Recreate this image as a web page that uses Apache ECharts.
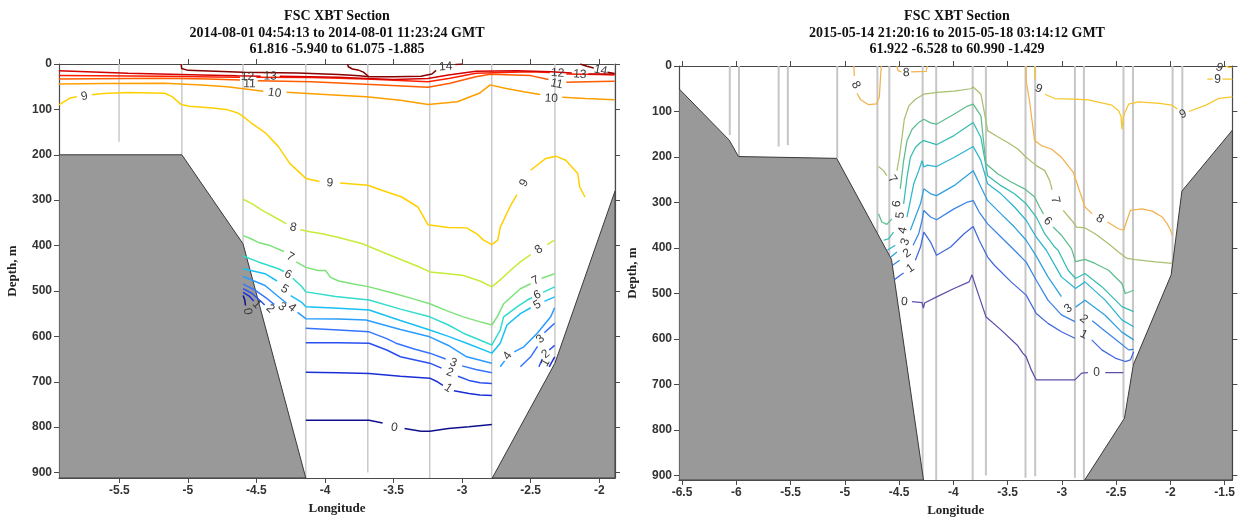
<!DOCTYPE html>
<html>
<head>
<meta charset="utf-8">
<script src="https://cdn.jsdelivr.net/npm/echarts@6/dist/echarts.min.js"></script>
<style>
  html, body { margin: 0; padding: 0; background: #fff; }
  #chart { width: 1238px; height: 524px; }
</style>
</head>
<body>
<div id="chart"></div>
<script>
// ---------- Section A: 2014-08-01 ----------
const secA_title = ['FSC XBT Section', '2014-08-01 04:54:13 to 2014-08-01 11:23:24 GMT', '61.816 -5.940 to 61.075 -1.885'];
const secA_lonRange = [-5.94, -1.885];
const secA_depthMax = 912;
const secA_lonTicks = [-5.5, -5, -4.5, -4, -3.5, -3, -2.5, -2];
const depthTicks = [0, 100, 200, 300, 400, 500, 600, 700, 800, 900];

// XBT drop positions: [longitude, deepest depth]
const secA_casts = [[-5.502,171],[-5.044,200],[-4.598,396],[-4.14,912],[-3.688,900],[-3.236,912],[-2.784,912],[-2.323,659],[-1.885,280]];
// sea floor
const secA_shelfWest = [[-5.94,200],[-5.044,200],[-4.598,396],[-4.14,912],[-5.94,912]];
const secA_shelfEast = [[-2.78,912],[-2.323,659],[-1.885,280],[-1.885,912]];

// isotherms, [longitude, depth]; null = break in the line
const secA_t0 = [[-4.597,510],[-4.585,520],[-4.58,532],null,[-4.14,785],[-3.90,785],[-3.678,785],[-3.58,791],null,[-3.42,803],[-3.30,809],[-3.236,809],[-3.10,803],[-2.95,799],[-2.783,794]];
const secA_t1 = [[-4.597,503],[-4.55,512],[-4.52,522],null,[-4.14,679],[-3.90,680],[-3.678,682],[-3.45,688],[-3.236,692],[-3.18,700],[-3.14,708],null,[-3.06,720],[-2.95,726],[-2.87,729],[-2.783,730],null,[-2.365,667],[-2.345,656],[-2.325,645]];
const secA_t2 = [[-4.597,495],[-4.53,506],[-4.47,522],[-4.44,531],null,[-4.14,614],[-3.90,614],[-3.678,615],[-3.55,630],[-3.45,645],[-3.236,659],[-3.15,670],null,[-3.03,688],[-2.95,697],[-2.87,702],[-2.783,704],null,[-2.44,667],[-2.415,650],null,[-2.365,630],[-2.325,620]];
const secA_t3 = [[-4.597,485],[-4.51,498],[-4.43,515],[-4.37,530],null,[-4.14,582],[-3.90,586],[-3.678,590],[-3.55,605],[-3.482,615],[-3.35,628],[-3.236,637],[-3.12,650],null,[-3.00,665],[-2.90,673],[-2.783,680],null,[-2.575,667],[-2.50,645],[-2.45,622],null,[-2.40,592],[-2.354,579],[-2.325,571]];
const secA_t4 = [[-4.597,468],[-4.437,488],[-4.35,510],[-4.28,527],null,[-4.20,547],[-4.14,561],[-3.90,562],[-3.702,564],[-3.45,585],[-3.236,601],[-3.10,620],[-2.967,645],[-2.783,659],null,[-2.722,667],[-2.69,654],null,[-2.62,634],[-2.55,623],[-2.452,593],[-2.354,557],[-2.325,537]];
const secA_t5 = [[-4.597,451],[-4.437,462],[-4.35,478],null,[-4.25,510],[-4.17,525],[-4.14,535],[-3.90,538],[-3.678,542],[-3.45,565],[-3.236,586],[-3.10,600],[-2.967,615],[-2.783,637],[-2.722,615],[-2.673,575],[-2.575,550],[-2.50,537],null,[-2.40,523],[-2.325,513]];
const secA_t6 = [[-4.597,423],[-4.486,436],[-4.34,451],[-4.30,457],null,[-4.235,472],[-4.17,490],[-4.14,502],[-3.923,512],[-3.678,520],[-3.45,540],[-3.236,557],[-3.10,575],[-2.991,593],[-2.88,607],[-2.783,619],[-2.722,586],[-2.697,557],[-2.60,535],[-2.525,520],[-2.49,515],null,[-2.41,503],[-2.325,491]];
const secA_t7 = [[-4.597,378],[-4.54,385],[-4.486,393],[-4.40,400],[-4.30,413],null,[-4.21,436],[-4.14,448],[-4.05,455],[-3.996,455],[-3.96,470],[-3.90,478],[-3.80,484],[-3.678,491],[-3.50,505],[-3.35,518],[-3.236,528],[-3.10,545],[-2.991,557],[-2.88,567],[-2.783,575],[-2.74,555],[-2.697,528],[-2.575,495],[-2.50,484],null,[-2.42,472],[-2.325,462]];
const secA_t8 = [[-4.598,298],[-4.53,308],[-4.46,322],[-4.34,342],[-4.28,352],null,[-4.18,365],[-4.10,370],[-4.02,374],[-3.90,382],[-3.727,396],[-3.60,412],[-3.43,433],[-3.32,446],[-3.236,458],[-3.10,462],[-2.99,466],[-2.87,478],[-2.783,491],[-2.72,475],[-2.648,455],[-2.58,437],[-2.50,420],null,[-2.38,398],[-2.325,388]];
const secA_t9 = [[-5.941,90],[-5.86,75],[-5.81,72],null,[-5.70,68],[-5.62,65],[-5.435,63],[-5.168,64.5],[-5.115,72],[-5.05,89],[-4.99,93],[-4.82,97],[-4.72,100],[-4.635,108],[-4.60,115],[-4.534,131],[-4.43,153],[-4.34,182],[-4.257,219],[-4.14,252],[-4.04,259],null,[-3.89,262],[-3.688,267],[-3.586,278],[-3.44,293],[-3.323,315],[-3.249,354],[-3.10,360],[-2.967,361],[-2.893,374],[-2.844,388],[-2.783,398],[-2.74,388],[-2.722,360],[-2.652,315],[-2.60,288],null,[-2.50,234],[-2.39,208],[-2.317,203],[-2.244,212],[-2.157,241],[-2.142,271],[-2.104,293]];
const secA_t10 = [[-5.941,44],[-5.6,43],[-5.168,42.5],[-4.9,46],[-4.715,50],[-4.58,55],[-4.45,60],null,[-4.28,62],[-4.0,67],[-3.70,72],[-3.45,80],[-3.248,89],[-3.035,83],[-2.875,64.5],[-2.795,46],[-2.688,53.5],[-2.55,61],[-2.43,67],null,[-2.27,73],[-2.1,76],[-1.888,79]];
const secA_t11 = [[-5.941,33],[-5.168,31.5],[-4.85,33],[-4.62,35],null,[-4.49,37],[-4.1,39],[-3.70,44.7],[-3.248,51],[-3.088,42.5],[-2.90,28],[-2.795,22.7],[-2.5,25.6],[-2.37,34],null,[-2.24,40],[-2.0,38.5],[-1.888,38]];
const secA_t12 = [[-5.941,25.6],[-5.168,27],[-4.8,28.5],[-4.62,29.3],null,[-4.50,29],[-4.1,30],[-3.7,33],[-3.248,39],[-3.088,31.5],[-2.90,20.5],[-2.5,17],[-2.36,19],null,[-2.24,22],[-2.0,23],[-1.888,24]];
const secA_t13 = [[-5.941,15],[-5.435,20.5],[-4.9,24],[-4.64,26],[-4.47,27],null,[-4.33,27],[-3.9,29],[-3.7,32],[-3.5,34],[-3.25,32],[-3.1,24],[-2.9,16],[-2.6,15],[-2.35,17],[-2.2,20],null,[-2.08,22],[-1.888,22]];
const secA_t14 = [[-5.05,0],[-5.045,10],[-5.0,14],[-4.6,18],[-4.2,20],[-3.9,23],[-3.75,26],[-3.68,28],null,[-3.835,0],[-3.83,6],[-3.80,11],[-3.76,13],[-3.72,18],[-3.68,28],[-3.5,28],[-3.3,27],[-3.22,22],[-3.19,14],null,[-3.05,1],[-3.0,0],null,[-2.14,0],[-2.09,5],[-2.04,9],null,[-1.94,18],[-1.888,21]];
const secA_levels = [secA_t0, secA_t1, secA_t2, secA_t3, secA_t4, secA_t5, secA_t6, secA_t7, secA_t8, secA_t9, secA_t10, secA_t11, secA_t12, secA_t13, secA_t14];

// contour labels: [longitude, depth, text]
const secA_labels = [
  [-4.565,545,'0'],[-3.494,801,'0'],
  [-4.499,530,'1'],[-3.102,714,'1'],[-2.392,658,'1'],
  [-4.40,539,'2'],[-3.09,680,'2'],[-2.39,639,'2'],
  [-4.315,535,'3'],[-3.065,658,'3'],[-2.428,606,'3'],
  [-4.241,537,'4'],[-2.668,643,'4'],
  [-4.295,496,'5'],[-2.452,531,'5'],
  [-4.271,464,'6'],[-2.452,509,'6'],
  [-4.254,425,'7'],[-2.464,477,'7'],
  [-4.232,360,'8'],[-2.44,409,'8'],
  [-5.755,71,'9'],[-3.965,262,'9'],[-2.548,262,'9'],
  [-4.368,64,'10'],[-2.35,76,'10'],
  [-4.55,44,'11'],[-2.31,44,'11'],
  [-4.565,28,'12'],[-2.303,20,'12'],
  [-4.40,27,'13'],[-2.142,23,'13'],
  [-3.12,6,'14'],[-1.99,14,'14']
];

// ---------- Section B: 2015-05-14 .. 2015-05-18 ----------
const secB_title = ['FSC XBT Section', '2015-05-14 21:20:16 to 2015-05-18 03:14:12 GMT', '61.922 -6.528 to 60.990 -1.429'];
const secB_lonRange = [-6.528, -1.429];
const secB_depthMax = 910;
const secB_lonTicks = [-6.5, -6, -5.5, -5, -4.5, -4, -3.5, -3, -2.5, -2, -1.5];

const secB_casts = [[-6.06,152],[-5.975,199],[-5.61,177],[-5.525,174],[-5.07,203],[-4.70,368],[-4.59,416],[-4.283,910],[-4.158,910],[-3.822,910],[-3.70,900],[-3.335,905],[-3.246,902],[-2.88,905],[-2.797,910],[-2.432,774],[-2.345,657],[-1.98,459],[-1.89,275]];
const secB_shelfWest = [[-6.528,50],[-6.065,163],[-5.98,199],[-5.075,203],[-4.57,425],[-4.275,910],[-6.528,910]];
const secB_shelfEast = [[-2.79,910],[-2.423,774],[-2.342,657],[-1.993,459],[-1.894,275],[-1.429,141],[-1.429,910]];

const secB_t0 = [[-4.38,518],[-4.288,520],[-4.276,532],[-4.265,521],[-4.149,507],[-3.994,489],[-3.855,474.5],[-3.828,459],[-3.793,485],[-3.70,551],[-3.561,580],[-3.406,615],[-3.36,631],[-3.329,639],[-3.282,668],[-3.236,690],[-2.88,690],[-2.818,675],[-2.76,674],null,[-2.60,674],[-2.434,674]];
const secB_t1 = [[-4.543,470],[-4.489,460],[-4.458,455],null,[-4.35,427],[-4.303,398],[-4.272,365],[-4.21,387],[-4.155,416],[-4.025,398],[-3.901,368.6],[-3.817,352.6],[-3.762,383],[-3.684,420],[-3.622,438],[-3.468,474.5],[-3.329,503.6],[-3.236,544],[-3.128,565.7],[-3.004,584],[-2.88,598.5],null,[-2.725,602],[-2.632,624],[-2.509,642],[-2.416,649.6],[-2.369,646],[-2.338,628]];
const secB_t2 = [[-4.56,438],[-4.495,427],null,[-4.371,394],[-4.319,368.6],[-4.288,339],[-4.272,317.5],[-4.21,332],[-4.155,338],[-3.994,314],[-3.87,299],[-3.817,296],[-3.762,321],[-3.684,347],[-3.561,376],[-3.437,405],[-3.329,431],[-3.236,471],[-3.128,514.6],[-3.004,547],[-2.88,562],null,[-2.72,560],[-2.632,577],[-2.478,606],[-2.385,624],[-2.338,623]];
const secB_t3 = [[-4.576,420],[-4.52,409],null,[-4.396,361],[-4.35,332],[-4.303,303],[-4.272,270],[-4.21,281],[-4.155,285],[-3.994,263],[-3.817,230],[-3.746,266],[-3.684,296],[-3.561,325],[-3.437,354],[-3.329,383],[-3.236,418],[-3.128,463.5],[-3.004,507],null,[-2.874,530],[-2.787,515],[-2.601,548],[-2.447,585],[-2.338,602]];
const secB_t4 = [[-4.61,405],[-4.535,394],null,[-4.427,332],[-4.396,296],[-4.365,259],[-4.319,230],[-4.288,208],[-4.272,222],[-4.266,226],[-4.24,218],[-4.155,221],[-3.994,201],[-3.817,177],[-3.746,208],[-3.684,259],[-3.561,281],[-3.437,310],[-3.329,339],[-3.236,376],[-3.143,405],[-3.004,463.5],[-2.874,489],[-2.787,474.5],[-2.601,514.6],[-2.447,558],[-2.338,573]];
const secB_t5 = [[-4.644,383],[-4.597,380],[-4.551,365],null,[-4.458,303],[-4.427,245],[-4.396,201],[-4.35,179],[-4.303,168],[-4.272,164],[-4.155,173],[-3.994,153],[-3.817,124],[-3.746,157],[-3.684,241],[-3.561,263],[-3.437,281],[-3.329,303],[-3.236,332],[-3.158,368.6],[-3.066,398],[-3.035,405],[-2.942,449],[-2.874,467],[-2.787,456],[-2.632,485],[-2.447,529],[-2.338,540]];
const secB_t6 = [[-4.69,325],[-4.659,343],[-4.613,348],[-4.566,336],null,[-4.489,270],[-4.458,208],[-4.427,164],[-4.38,139],[-4.319,124],[-4.272,117],[-4.21,125],[-4.155,128],[-3.994,106],[-3.87,88],[-3.817,84],[-3.746,109.5],[-3.70,215],[-3.592,237],[-3.468,255],[-3.344,270],[-3.251,288],[-3.205,310],[-3.17,325],null,[-3.081,354],[-3.004,372],[-2.911,402],[-2.874,430],[-2.787,425],[-2.694,434],[-2.57,449],[-2.447,478],[-2.416,500],[-2.338,493]];
const secB_t7 = [[-4.69,221],[-4.644,230],[-4.613,241],null,[-4.52,230],[-4.498,201],[-4.473,157],[-4.452,117],[-4.41,87.6],[-4.35,73],[-4.272,62],[-4.149,58],[-3.994,55],[-3.839,50],[-3.817,46],[-3.746,62],[-3.70,120],[-3.684,142],[-3.592,155.5],[-3.499,168],[-3.406,182.5],[-3.329,200.7],[-3.236,219],[-3.158,230],[-3.112,252],[-3.09,272],null,[-2.988,317.5],[-2.911,339],[-2.864,354],[-2.787,356],[-2.694,368.6],[-2.57,390.5],[-2.478,409],[-2.40,423],[-2.323,425.5],[-2.137,430.7],[-1.983,434]];
const secB_t8 = [[-4.917,0],[-4.912,22],null,[-4.888,60],[-4.855,74],[-4.78,85],[-4.708,83],[-4.682,68],[-4.671,24],[-4.664,0],null,
  [-4.52,0],[-4.51,10],[-4.48,13],null,[-4.39,13],[-4.25,12],[-4.24,0],null,
  [-3.329,0],[-3.329,33],[-3.298,77],[-3.267,135],[-3.251,164],[-3.19,175],[-3.097,182.5],[-3.004,200.7],[-2.895,233.6],[-2.818,288],[-2.787,310],[-2.72,325],null,[-2.58,343],[-2.478,357.7],[-2.431,361],[-2.40,339],[-2.369,317.5],[-2.261,314],[-2.168,319],[-2.075,332],[-2.029,347],[-1.998,361],[-1.983,372]];
const secB_t9 = [[-3.251,0],[-3.251,29],null,[-3.158,62],[-3.066,71.5],[-2.90,73],[-2.756,74.5],[-2.54,86],[-2.478,98.5],[-2.455,110],[-2.447,139],[-2.44,139],[-2.432,110],[-2.422,104],[-2.385,84],[-2.292,79],[-2.1,82],[-1.983,86],[-1.935,95],null,[-1.83,100],[-1.673,86],[-1.55,71],[-1.429,68],null,
  [-1.66,29],[-1.61,29],null,[-1.52,29],[-1.429,29],null,[-1.49,0],[-1.46,3],[-1.429,3]];
const secB_levels = [secB_t0, secB_t1, secB_t2, secB_t3, secB_t4, secB_t5, secB_t6, secB_t7, secB_t8, secB_t9];

const secB_labels = [
  [-4.451,518,'0'],[-2.679,675,'0'],
  [-4.396,445,'1'],[-2.80,590,'1'],
  [-4.427,412,'2'],[-2.80,556,'2'],
  [-4.442,387,'3'],[-2.942,533,'3'],
  [-4.464,361,'4'],
  [-4.489,328,'5'],
  [-4.52,303,'6'],[-3.13,341,'6'],
  [-4.561,249,'7'],[-3.06,295,'7'],
  [-4.90,42,'8'],[-4.433,15,'8'],[-2.65,336,'8'],
  [-3.215,50,'9'],[-1.885,106,'9'],[-1.565,29,'9'],[-1.55,4,'9']
];

// ---------- styling ----------
const secA_palette = ['#10108f','#1a2ed8','#2a4ff0','#3674ff','#2a9cff','#18c0f6','#30dccc','#7ee27a','#c6ec3a','#ffd000','#ff9e00','#ff5c00','#ff1e00','#d40000','#860000'];
const secB_palette = ['#5a50a8','#4068dc','#3884e4','#2ea0de','#2cb5cf','#36bdb2','#5ebd8e','#a9bf70','#f2b24e','#f6c62c'];
const serifBold = { fontFamily: 'Liberation Serif', fontWeight: 'bold' };
const axisColor = '#4a4a4a';

function splitPieces(arr) {
  const out = []; let cur = [];
  arr.forEach(p => { if (p === null) { if (cur.length > 1) out.push(cur); cur = []; } else cur.push(p); });
  if (cur.length > 1) out.push(cur);
  return out;
}

// orientation of the isotherm closest to a label, so the number follows the line
function segAngle(api, line, lon, depth) {
  const p = api.coord([lon, depth]);
  let best = Infinity, ang = 0;
  for (let i = 0; i < line.length - 1; i++) {
    const a = line[i], b = line[i + 1];
    if (!a || !b) continue;
    const pa = api.coord(a), pb = api.coord(b);
    const dx = pb[0] - pa[0], dy = pb[1] - pa[1];
    const L2 = dx * dx + dy * dy || 1e-9;
    let t = ((p[0] - pa[0]) * dx + (p[1] - pa[1]) * dy) / L2;
    t = Math.max(0, Math.min(1, t));
    const qx = pa[0] + t * dx - p[0], qy = pa[1] + t * dy - p[1];
    const d = qx * qx + qy * qy;
    if (d < best) { best = d; ang = Math.atan2(dy, dx); }
  }
  if (Math.sqrt(best) > 30) return 0;
  if (ang > Math.PI / 2) ang -= Math.PI;
  if (ang < -Math.PI / 2) ang += Math.PI;
  return -ang;
}

function sectionSeries(xi, yi, casts, shelves, levels, palette, labels, lineW, castW) {
  const list = [];
  list.push({
    type: 'custom', xAxisIndex: xi, yAxisIndex: yi, silent: true, z: 1, clip: true,
    data: casts,
    renderItem: (params, api) => {
      const top = api.coord([api.value(0), 0]);
      const bot = api.coord([api.value(0), api.value(1)]);
      return { type: 'line', shape: { x1: top[0], y1: top[1], x2: bot[0], y2: bot[1] },
               style: { stroke: '#c6c6c6', lineWidth: castW } };
    }
  });
  list.push({
    type: 'custom', xAxisIndex: xi, yAxisIndex: yi, silent: true, z: 2, clip: true,
    data: shelves.map((poly, i) => [poly[0][0], poly[0][1], i]),
    renderItem: (params, api) => {
      const pts = shelves[params.dataIndex].map(v => api.coord(v));
      return { type: 'polygon', shape: { points: pts },
               style: { fill: '#999999', stroke: '#3a3a3a', lineWidth: 1 } };
    }
  });
  levels.forEach((iso, lv) => {
    splitPieces(iso).forEach(piece => {
      list.push({
        type: 'line', xAxisIndex: xi, yAxisIndex: yi, data: piece, silent: true, z: 3,
        showSymbol: false, symbol: 'none', animation: false,
        lineStyle: { color: palette[lv], width: lineW }
      });
    });
  });
  list.push({
    type: 'custom', xAxisIndex: xi, yAxisIndex: yi, silent: true, z: 4, clip: false,
    data: labels.map(l => [l[0], l[1]]),
    renderItem: (params, api) => {
      const lab = labels[params.dataIndex];
      const p = api.coord([lab[0], lab[1]]);
      const rot = segAngle(api, levels[parseInt(lab[2], 10)], lab[0], lab[1]);
      return { type: 'text', x: p[0], y: p[1], rotation: rot,
               style: { text: lab[2], fill: '#3a3a3a', fontSize: 12, fontFamily: 'Liberation Sans',
                        align: 'center', verticalAlign: 'middle' } };
    }
  });
  return list;
}

function xAxes(grid, range, ticks) {
  const base = {
    gridIndex: grid, type: 'value', min: range[0], max: range[1],
    splitLine: { show: false },
    axisLine: { onZero: false, lineStyle: { color: axisColor, width: 1.2 } },
    axisTick: { length: 5, customValues: ticks, lineStyle: { color: axisColor } }
  };
  return [
    Object.assign({}, base, {
      position: 'bottom', name: 'Longitude', nameLocation: 'middle', nameGap: 24,
      nameTextStyle: Object.assign({ fontSize: 13, color: '#222' }, serifBold),
      axisLabel: { customValues: ticks, fontFamily: 'Liberation Sans', fontWeight: 'bold', fontSize: 12, color: '#333', margin: 7 }
    }),
    Object.assign({}, base, { position: 'top', axisLabel: { show: false } })
  ];
}

function yAxes(grid, max) {
  const base = {
    gridIndex: grid, type: 'value', min: 0, max: max, inverse: true,
    splitLine: { show: false },
    axisLine: { onZero: false, lineStyle: { color: axisColor, width: 1.2 } },
    axisTick: { length: 5, customValues: depthTicks, lineStyle: { color: axisColor } }
  };
  return [
    Object.assign({}, base, {
      position: 'left', name: 'Depth, m', nameLocation: 'middle', nameGap: 40, nameRotate: 90,
      nameTextStyle: Object.assign({ fontSize: 13, color: '#222' }, serifBold),
      axisLabel: { customValues: depthTicks, fontFamily: 'Liberation Sans', fontWeight: 'bold', fontSize: 12, color: '#333', margin: 7 }
    }),
    Object.assign({}, base, { position: 'right', axisLabel: { show: false } })
  ];
}

const chart = echarts.init(document.getElementById('chart'), null, { renderer: 'canvas' });
chart.setOption({
  animation: false,
  backgroundColor: '#ffffff',
  grid: [
    { left: 59, right: 623, top: 64, bottom: 46 },
    { left: 679, right: 3, top: 66, bottom: 44 }
  ],
  xAxis: [].concat(xAxes(0, secA_lonRange, secA_lonTicks), xAxes(1, secB_lonRange, secB_lonTicks)),
  yAxis: [].concat(yAxes(0, secA_depthMax), yAxes(1, secB_depthMax)),
  graphic: [
    { type: 'text', x: 337, y: 8, silent: true,
      style: Object.assign({ text: secA_title.join('\n'), align: 'center', verticalAlign: 'top', fontSize: 14, lineHeight: 16.7, fill: '#111' }, serifBold) },
    { type: 'text', x: 957, y: 8, silent: true,
      style: Object.assign({ text: secB_title.join('\n'), align: 'center', verticalAlign: 'top', fontSize: 14, lineHeight: 16.7, fill: '#111' }, serifBold) }
  ],
  series: [].concat(
    sectionSeries(0, 0, secA_casts, [secA_shelfWest, secA_shelfEast], secA_levels, secA_palette, secA_labels, 1.5, 1.4),
    sectionSeries(2, 2, secB_casts, [secB_shelfWest, secB_shelfEast], secB_levels, secB_palette, secB_labels, 1.25, 2)
  )
});
</script>
</body>
</html>
